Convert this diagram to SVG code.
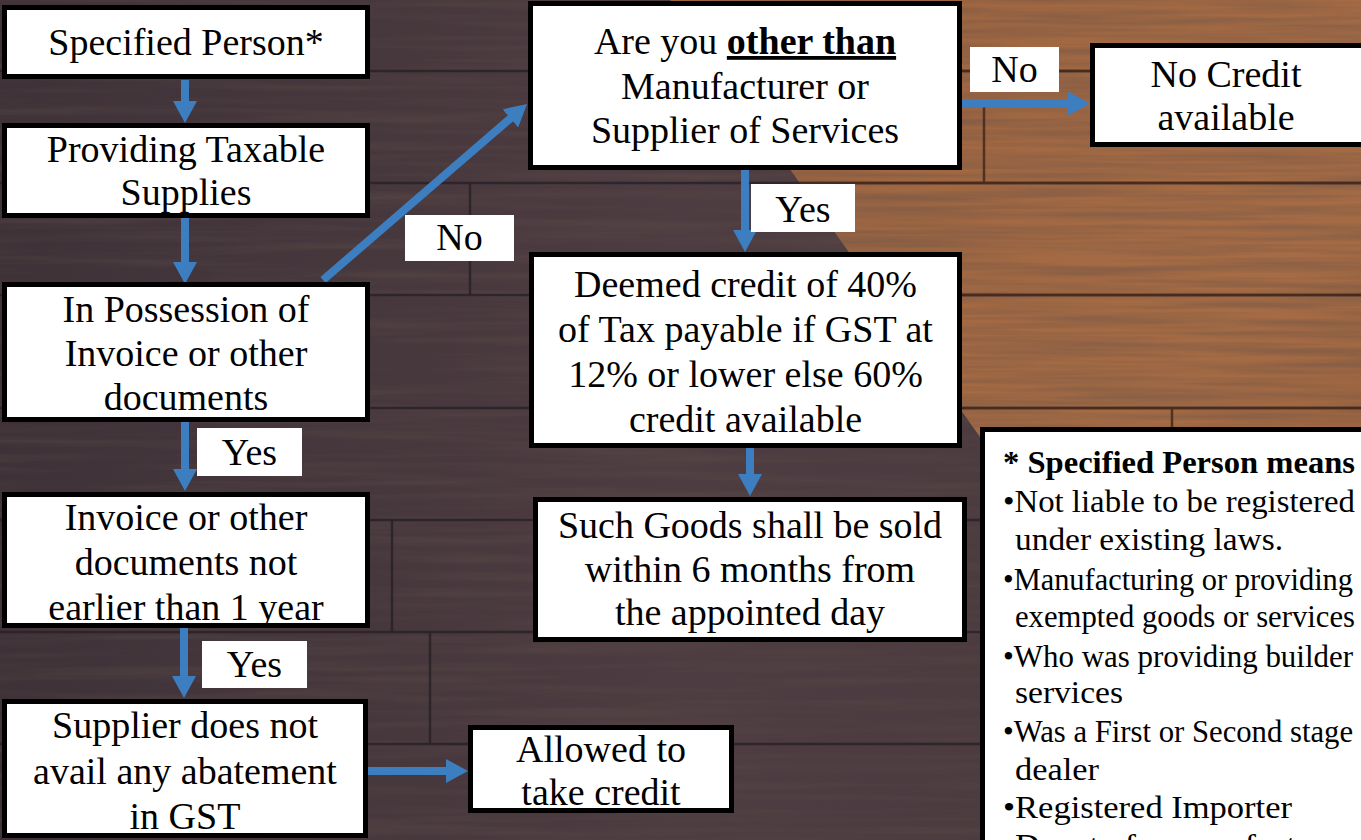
<svg xmlns="http://www.w3.org/2000/svg" width="1361" height="840" viewBox="0 0 1361 840">
<style>
.box{fill:#fff;stroke:#000;stroke-width:5}
.lbl{fill:#fff}
.t{font-family:"Liberation Serif","DejaVu Serif",serif;font-size:38px;fill:#000;text-anchor:middle}
.s{font-family:"Liberation Serif","DejaVu Serif",serif;font-size:30.5px;fill:#000;text-anchor:start}
.conn{stroke:#3c7ebf;stroke-width:8;fill:none;marker-end:url(#ah)}
.seamD{stroke:#2a2228;stroke-width:2.5;opacity:.85}
.seamL{stroke:#4a2c1e;stroke-width:2.5;opacity:.9}
</style>
<defs>
<marker id="ah" viewBox="0 0 22 24" refX="1" refY="12" markerWidth="22" markerHeight="24" markerUnits="userSpaceOnUse" orient="auto">
<path d="M0,0 L22,12 L0,24 z" fill="#3c7ebf"/>
</marker>
<linearGradient id="darkg" x1="0" y1="0" x2="1" y2="0">
<stop offset="0" stop-color="#3e3238"/>
<stop offset="0.5" stop-color="#4d3c41"/>
<stop offset="1" stop-color="#4a3a3e"/>
</linearGradient>
<linearGradient id="lightg" x1="0" y1="0" x2="1" y2="1">
<stop offset="0" stop-color="#9c6440"/>
<stop offset="0.6" stop-color="#a66c45"/>
<stop offset="1" stop-color="#8e5b3b"/>
</linearGradient>
<filter id="grain" x="0" y="0" width="100%" height="100%">
<feTurbulence type="fractalNoise" baseFrequency="0.004 0.11" numOctaves="3" seed="7"/>
<feColorMatrix type="matrix" values="0 0 0 0 0.12  0 0 0 0 0.08  0 0 0 0 0.07  1.5 0 0 0 -0.6"/>
</filter>
<filter id="grain2" x="0" y="0" width="100%" height="100%">
<feTurbulence type="fractalNoise" baseFrequency="0.006 0.2" numOctaves="2" seed="21"/>
<feColorMatrix type="matrix" values="0 0 0 0 0.2  0 0 0 0 0.1  0 0 0 0 0.06  1.8 0 0 0 -0.75"/>
</filter>
<clipPath id="lightclip"><polygon points="670,0 1361,0 1361,840 1266,840"/></clipPath>
</defs>

<g id="background">
<rect width="1361" height="840" fill="url(#darkg)"/>
<polygon points="670,0 1361,0 1361,840 1266,840" fill="url(#lightg)"/>
<rect width="1361" height="840" filter="url(#grain)" opacity="0.55"/>
<rect width="1361" height="840" filter="url(#grain2)" opacity="0.6" clip-path="url(#lightclip)"/>
<g>
<line class="seamD" x1="0" y1="71" x2="1361" y2="71"/>
<line class="seamD" x1="0" y1="183" x2="1361" y2="183"/>
<line class="seamD" x1="0" y1="295" x2="1361" y2="295"/>
<line class="seamD" x1="0" y1="408" x2="1361" y2="408"/>
<line class="seamD" x1="0" y1="520" x2="1361" y2="520"/>
<line class="seamD" x1="0" y1="632" x2="1361" y2="632"/>
<line class="seamD" x1="0" y1="744" x2="1361" y2="744"/>
<line class="seamD" x1="392" y1="520" x2="392" y2="632"/>
<line class="seamD" x1="470" y1="183" x2="470" y2="295"/>
<line class="seamD" x1="430" y1="632" x2="430" y2="744"/>
</g>
<g clip-path="url(#lightclip)">
<line class="seamL" x1="600" y1="71" x2="1361" y2="71"/>
<line class="seamL" x1="600" y1="183" x2="1361" y2="183"/>
<line class="seamL" x1="600" y1="295" x2="1361" y2="295"/>
<line class="seamL" x1="600" y1="408" x2="1361" y2="408"/>
<line class="seamL" x1="984" y1="100" x2="984" y2="183"/>
<line class="seamL" x1="1172" y1="408" x2="1172" y2="430"/>
</g>
</g>

<g id="connectors">
<path class="conn" d="M185,80 L185,102"/>
<path class="conn" d="M185,218 L185,263"/>
<path class="conn" d="M185,422 L185,470"/>
<path class="conn" d="M184,628 L184,677"/>
<path class="conn" d="M368,771 L447,771"/>
<path class="conn" d="M323,280 L511.1,117.7"/>
<path class="conn" d="M962,103.5 L1069,103.5"/>
<path class="conn" d="M745,170 L745,231"/>
<path class="conn" d="M750,448 L750,475"/>
</g>

<g id="n-specified">
<rect class="box" x="4.5" y="7.5" width="363" height="69"/>
<text class="t" x="186" y="55">Specified Person*</text>
</g>
<g id="n-providing">
<rect class="box" x="4.5" y="125.5" width="363" height="90"/>
<text class="t" x="186" y="162">Providing Taxable</text>
<text class="t" x="186" y="205">Supplies</text>
</g>
<g id="n-possession">
<rect class="box" x="4.5" y="284.5" width="363" height="135"/>
<text class="t" x="186" y="322">In Possession of</text>
<text class="t" x="186" y="366">Invoice or other</text>
<text class="t" x="186" y="410">documents</text>
</g>
<g id="n-invoice">
<rect class="box" x="4.5" y="494.5" width="363" height="131"/>
<text class="t" x="186" y="530">Invoice or other</text>
<text class="t" x="186" y="575">documents not</text>
<text class="t" x="186" y="620">earlier than 1 year</text>
</g>
<g id="n-supplier">
<rect class="box" x="4.5" y="701.5" width="361" height="134"/>
<text class="t" x="185" y="738">Supplier does not</text>
<text class="t" x="185" y="784">avail any abatement</text>
<text class="t" x="185" y="829">in GST</text>
</g>
<g id="n-allowed">
<rect class="box" x="470.5" y="727.5" width="261" height="83"/>
<text class="t" x="601" y="762">Allowed to</text>
<text class="t" x="601" y="805">take credit</text>
</g>
<g id="n-areyou">
<rect class="box" x="530.5" y="3.5" width="429" height="164"/>
<text class="t" x="745" y="54">Are you <tspan font-weight="bold" text-decoration="underline">other than</tspan></text>
<text class="t" x="745" y="99">Manufacturer or</text>
<text class="t" x="745" y="143">Supplier of Services</text>
</g>
<g id="n-nocredit">
<rect class="box" x="1092.5" y="45.5" width="280" height="99"/>
<text class="t" x="1226" y="87">No Credit</text>
<text class="t" x="1226" y="130">available</text>
</g>
<g id="n-deemed">
<rect class="box" x="531.5" y="254.5" width="428" height="191"/>
<text class="t" x="745.5" y="297">Deemed credit of 40%</text>
<text class="t" x="745.5" y="342">of Tax payable if GST at</text>
<text class="t" x="745.5" y="387">12% or lower else 60%</text>
<text class="t" x="745.5" y="432">credit available</text>
</g>
<g id="n-goods">
<rect class="box" x="535.5" y="499.5" width="429" height="140"/>
<text class="t" x="750" y="538">Such Goods shall be sold</text>
<text class="t" x="750" y="582">within 6 months from</text>
<text class="t" x="750" y="625">the appointed day</text>
</g>
<g id="n-means">
<rect class="box" x="982.5" y="429.5" width="400" height="430"/>
<text class="s" x="1003" y="473" font-weight="bold" textLength="352" lengthAdjust="spacingAndGlyphs">* Specified Person means</text>
<text class="s" x="1003" y="512" textLength="352" lengthAdjust="spacingAndGlyphs">•Not liable to be registered</text>
<text class="s" x="1015" y="550" textLength="268" lengthAdjust="spacingAndGlyphs">under existing laws.</text>
<text class="s" x="1003" y="590" textLength="350" lengthAdjust="spacingAndGlyphs">•Manufacturing or providing</text>
<text class="s" x="1015" y="627" textLength="340" lengthAdjust="spacingAndGlyphs">exempted goods or services</text>
<text class="s" x="1003" y="667" textLength="350" lengthAdjust="spacingAndGlyphs">•Who was providing builder</text>
<text class="s" x="1015" y="703" textLength="108" lengthAdjust="spacingAndGlyphs">services</text>
<text class="s" x="1003" y="742" textLength="350" lengthAdjust="spacingAndGlyphs">•Was a First or Second stage</text>
<text class="s" x="1015" y="780" textLength="84" lengthAdjust="spacingAndGlyphs">dealer</text>
<text class="s" x="1003" y="818" textLength="289" lengthAdjust="spacingAndGlyphs">•Registered Importer</text>
<text class="s" x="1003" y="856" textLength="348" lengthAdjust="spacingAndGlyphs">•Depot of a manufacturer</text>
</g>

<g id="labels">
<g id="l-no1"><rect class="lbl" x="405" y="215" width="109" height="46"/><text class="t" x="459.5" y="250">No</text></g>
<g id="l-yes1"><rect class="lbl" x="197" y="428" width="105" height="48"/><text class="t" x="249.5" y="465">Yes</text></g>
<g id="l-yes2"><rect class="lbl" x="202" y="641" width="105" height="47"/><text class="t" x="254.5" y="677">Yes</text></g>
<g id="l-no2"><rect class="lbl" x="970" y="47" width="89" height="45"/><text class="t" x="1014.5" y="82">No</text></g>
<g id="l-yes3"><rect class="lbl" x="751" y="184" width="104" height="48"/><text class="t" x="803" y="222">Yes</text></g>
</g>
</svg>
